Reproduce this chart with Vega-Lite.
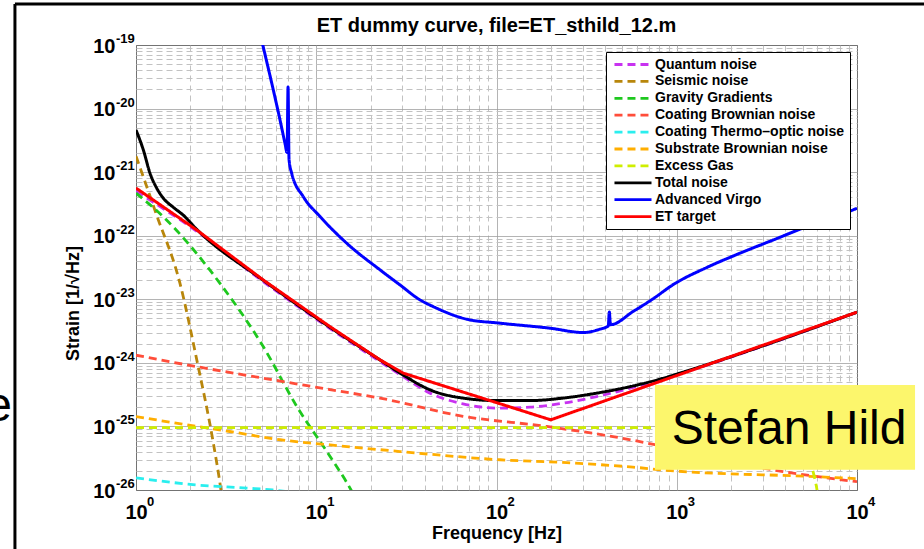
{
  "$schema": "https://vega.github.io/schema/vega-lite/v6.json",
  "width": 721,
  "height": 445,
  "autosize": {"type": "none"},
  "padding": {"left": 136, "top": 45, "right": 67, "bottom": 59},
  "background": "white",
  "config": {"view": {"stroke": "black", "strokeWidth": 1}, "font": "Liberation Sans"},
  "datasets": {
    "curves": [
      {"s": "xtick", "f": 1, "e": "0"},
      {"s": "xtick", "f": 10, "e": "1"},
      {"s": "xtick", "f": 100, "e": "2"},
      {"s": "xtick", "f": 1000, "e": "3"},
      {"s": "xtick", "f": 10000, "e": "4"},
      {"s": "ytick", "v": 1e-19, "e": "-19"},
      {"s": "ytick", "v": 1e-20, "e": "-20"},
      {"s": "ytick", "v": 1e-21, "e": "-21"},
      {"s": "ytick", "v": 1e-22, "e": "-22"},
      {"s": "ytick", "v": 1e-23, "e": "-23"},
      {"s": "ytick", "v": 1e-24, "e": "-24"},
      {"s": "ytick", "v": 1e-25, "e": "-25"},
      {"s": "ytick", "v": 1e-26, "e": "-26"},

      {"s": "Quantum noise", "f": 1, "v": 5.01e-22},
      {"s": "Quantum noise", "f": 2.173, "v": 1.175e-22},
      {"s": "Quantum noise", "f": 5.07, "v": 1.905e-23},
      {"s": "Quantum noise", "f": 11.91, "v": 3.47e-24},
      {"s": "Quantum noise", "f": 22.59, "v": 1.047e-24},
      {"s": "Quantum noise", "f": 30.27, "v": 6.1e-25},
      {"s": "Quantum noise", "f": 42.76, "v": 3.34e-25},
      {"s": "Quantum noise", "f": 65.16, "v": 2.265e-25},
      {"s": "Quantum noise", "f": 100.2, "v": 1.941e-25},
      {"s": "Quantum noise", "f": 153.5, "v": 2.01e-25},
      {"s": "Quantum noise", "f": 233.9, "v": 2.323e-25},
      {"s": "Quantum noise", "f": 359.7, "v": 2.95e-25},
      {"s": "Quantum noise", "f": 553.4, "v": 4.0e-25},
      {"s": "Quantum noise", "f": 843.3, "v": 5.62e-25},
      {"s": "Quantum noise", "f": 1042, "v": 6.76e-25},
      {"s": "Quantum noise", "f": 10000, "v": 6.24e-24},

      {"s": "Seismic noise", "f": 1, "v": 1.78e-21},
      {"s": "Seismic noise", "f": 1.122, "v": 7.08e-22},
      {"s": "Seismic noise", "f": 1.288, "v": 2.29e-22},
      {"s": "Seismic noise", "f": 1.754, "v": 1.78e-23},
      {"s": "Seismic noise", "f": 2.173, "v": 1.12e-24},
      {"s": "Seismic noise", "f": 2.685, "v": 5.5e-26},
      {"s": "Seismic noise", "f": 2.96, "v": 1.0e-26},
      {"s": "Seismic noise", "f": 3.09, "v": 4e-27},

      {"s": "Gravity Gradients", "f": 1, "v": 4.68e-22},
      {"s": "Gravity Gradients", "f": 1.413, "v": 2.0e-22},
      {"s": "Gravity Gradients", "f": 2.924, "v": 1.78e-23},
      {"s": "Gravity Gradients", "f": 5.07, "v": 1.82e-24},
      {"s": "Gravity Gradients", "f": 7.82, "v": 2.04e-25},
      {"s": "Gravity Gradients", "f": 11.91, "v": 3.39e-26},
      {"s": "Gravity Gradients", "f": 15.6, "v": 1.0e-26},
      {"s": "Gravity Gradients", "f": 17, "v": 6.3e-27},

      {"s": "Coating Brownian noise", "f": 1, "v": 1.318e-24},
      {"s": "Coating Brownian noise", "f": 2.173, "v": 8.71e-25},
      {"s": "Coating Brownian noise", "f": 5.07, "v": 5.75e-25},
      {"s": "Coating Brownian noise", "f": 11.91, "v": 3.8e-25},
      {"s": "Coating Brownian noise", "f": 22.59, "v": 2.79e-25},
      {"s": "Coating Brownian noise", "f": 65.16, "v": 1.445e-25},
      {"s": "Coating Brownian noise", "f": 189.7, "v": 1.0e-25},
      {"s": "Coating Brownian noise", "f": 442.6, "v": 6.92e-26},
      {"s": "Coating Brownian noise", "f": 3890, "v": 1.95e-26},
      {"s": "Coating Brownian noise", "f": 10000, "v": 1.35e-26},

      {"s": "Coating Thermo–optic noise", "f": 1, "v": 1.55e-26},
      {"s": "Coating Thermo–optic noise", "f": 2.173, "v": 1.2e-26},
      {"s": "Coating Thermo–optic noise", "f": 4.11, "v": 1.07e-26},
      {"s": "Coating Thermo–optic noise", "f": 5.75, "v": 1.0e-26},
      {"s": "Coating Thermo–optic noise", "f": 8, "v": 8.9e-27},

      {"s": "Substrate Brownian noise", "f": 1, "v": 1.43e-25},
      {"s": "Substrate Brownian noise", "f": 2.173, "v": 1.0e-25},
      {"s": "Substrate Brownian noise", "f": 3.31, "v": 8.32e-26},
      {"s": "Substrate Brownian noise", "f": 6.31, "v": 6.17e-26},
      {"s": "Substrate Brownian noise", "f": 11.91, "v": 5.13e-26},
      {"s": "Substrate Brownian noise", "f": 29.2, "v": 4.03e-26},
      {"s": "Substrate Brownian noise", "f": 104.5, "v": 2.99e-26},
      {"s": "Substrate Brownian noise", "f": 245.5, "v": 2.69e-26},
      {"s": "Substrate Brownian noise", "f": 571, "v": 2.29e-26},
      {"s": "Substrate Brownian noise", "f": 879, "v": 2.04e-26},
      {"s": "Substrate Brownian noise", "f": 5970, "v": 1.62e-26},
      {"s": "Substrate Brownian noise", "f": 10000, "v": 1.51e-26},

      {"s": "Excess Gas", "f": 1, "v": 9.55e-26},
      {"s": "Excess Gas", "f": 3000, "v": 9.55e-26},
      {"s": "Excess Gas", "f": 4500, "v": 7.6e-26},
      {"s": "Excess Gas", "f": 5300, "v": 4.0e-26},
      {"s": "Excess Gas", "f": 5750, "v": 1.78e-26},
      {"s": "Excess Gas", "f": 6000, "v": 1.0e-26},
      {"s": "Excess Gas", "f": 6200, "v": 5e-27},

      {"s": "Total noise", "f": 1, "v": 4.61e-21},
      {"s": "Total noise", "f": 1.098, "v": 2.24e-21},
      {"s": "Total noise", "f": 1.196, "v": 9.6e-22},
      {"s": "Total noise", "f": 1.303, "v": 5.6e-22},
      {"s": "Total noise", "f": 1.417, "v": 3.9e-22},
      {"s": "Total noise", "f": 1.611, "v": 2.8e-22},
      {"s": "Total noise", "f": 1.83, "v": 2.1e-22},
      {"s": "Total noise", "f": 2.173, "v": 1.26e-22},
      {"s": "Total noise", "f": 5.07, "v": 2.0e-23},
      {"s": "Total noise", "f": 11.91, "v": 3.63e-24},
      {"s": "Total noise", "f": 22.59, "v": 1.11e-24},
      {"s": "Total noise", "f": 30.27, "v": 6.47e-25},
      {"s": "Total noise", "f": 42.76, "v": 3.76e-25},
      {"s": "Total noise", "f": 65.16, "v": 2.79e-25},
      {"s": "Total noise", "f": 100.2, "v": 2.55e-25},
      {"s": "Total noise", "f": 153.5, "v": 2.55e-25},
      {"s": "Total noise", "f": 233.9, "v": 2.79e-25},
      {"s": "Total noise", "f": 359.7, "v": 3.34e-25},
      {"s": "Total noise", "f": 553.4, "v": 4.24e-25},
      {"s": "Total noise", "f": 843.3, "v": 5.74e-25},
      {"s": "Total noise", "f": 1042, "v": 6.89e-25},
      {"s": "Total noise", "f": 10000, "v": 6.27e-24},

      {"s": "Advanced Virgo", "f": 4.898, "v": 1.45e-19},
      {"s": "Advanced Virgo", "f": 5.08, "v": 9.33e-20},
      {"s": "Advanced Virgo", "f": 5.781, "v": 1.95e-20},
      {"s": "Advanced Virgo", "f": 6.295, "v": 6.61e-21},
      {"s": "Advanced Virgo", "f": 6.708, "v": 2.84e-21},
      {"s": "Advanced Virgo", "f": 6.887, "v": 2.04e-21},
      {"s": "Advanced Virgo", "f": 6.975, "v": 2.19e-20},
      {"s": "Advanced Virgo", "f": 7.063, "v": 1.585e-21},
      {"s": "Advanced Virgo", "f": 7.311, "v": 9.55e-22},
      {"s": "Advanced Virgo", "f": 8.472, "v": 4.12e-22},
      {"s": "Advanced Virgo", "f": 10.5, "v": 2.0e-22},
      {"s": "Advanced Virgo", "f": 14.76, "v": 7.62e-23},
      {"s": "Advanced Virgo", "f": 22.59, "v": 2.9e-23},
      {"s": "Advanced Virgo", "f": 29.17, "v": 1.68e-23},
      {"s": "Advanced Virgo", "f": 37.67, "v": 9.77e-24},
      {"s": "Advanced Virgo", "f": 44.57, "v": 7.67e-24},
      {"s": "Advanced Virgo", "f": 68.39, "v": 4.86e-24},
      {"s": "Advanced Virgo", "f": 104.5, "v": 4.21e-24},
      {"s": "Advanced Virgo", "f": 198.2, "v": 3.51e-24},
      {"s": "Advanced Virgo", "f": 303.4, "v": 3.0e-24},
      {"s": "Advanced Virgo", "f": 375, "v": 3.39e-24},
      {"s": "Advanced Virgo", "f": 416.9, "v": 3.8e-24},
      {"s": "Advanced Virgo", "f": 422.7, "v": 6.31e-24},
      {"s": "Advanced Virgo", "f": 428.5, "v": 3.98e-24},
      {"s": "Advanced Virgo", "f": 574.1, "v": 6.46e-24},
      {"s": "Advanced Virgo", "f": 741, "v": 1.023e-23},
      {"s": "Advanced Virgo", "f": 955, "v": 1.7e-23},
      {"s": "Advanced Virgo", "f": 1466, "v": 3.16e-23},
      {"s": "Advanced Virgo", "f": 2244, "v": 5.31e-23},
      {"s": "Advanced Virgo", "f": 3436, "v": 8.59e-23},
      {"s": "Advanced Virgo", "f": 5260, "v": 1.39e-22},
      {"s": "Advanced Virgo", "f": 8054, "v": 2.12e-22},
      {"s": "Advanced Virgo", "f": 10000, "v": 2.7e-22},

      {"s": "ET target", "f": 1, "v": 5.62e-22},
      {"s": "ET target", "f": 2.173, "v": 1.23e-22},
      {"s": "ET target", "f": 5.07, "v": 2.02e-23},
      {"s": "ET target", "f": 11.91, "v": 3.72e-24},
      {"s": "ET target", "f": 22.59, "v": 1.114e-24},
      {"s": "ET target", "f": 30.41, "v": 6.89e-25},
      {"s": "ET target", "f": 200, "v": 1.27e-25},
      {"s": "ET target", "f": 10000, "v": 6.27e-24}
    ]
  },
  "data": {"name": "curves"},
  "layer": [
    {
      "transform": [{"filter": "datum.s == 'Quantum noise' || datum.s == 'Seismic noise' || datum.s == 'Gravity Gradients' || datum.s == 'Coating Brownian noise' || datum.s == 'Coating Thermo–optic noise' || datum.s == 'Substrate Brownian noise' || datum.s == 'Excess Gas'"}],
      "mark": {"type": "line", "clip": true, "strokeWidth": 2.8, "interpolate": "monotone"},
      "encoding": {
        "x": {
          "field": "f", "type": "quantitative",
          "scale": {"type": "log", "domain": [1, 10000], "nice": false},
          "axis": {
            "title": "Frequency [Hz]",
            "values": [1,2,3,4,5,6,7,8,9,10,20,30,40,50,60,70,80,90,100,200,300,400,500,600,700,800,900,1000,2000,3000,4000,5000,6000,7000,8000,9000,10000],
            "labelExpr": "abs(log(datum.value)/LN10 - round(log(datum.value)/LN10)) < 0.000001 ? '10' : ''",
            "labelFont": "Liberation Sans", "labelFontSize": 20, "labelFontWeight": "bold", "labelColor": "black",
            "labelPadding": 12, "labelOverlap": false, "labelFlush": false,
            "ticks": false, "domain": false, "grid": true, "gridWidth": 1,
            "gridColor": {"condition": {"test": "abs(log(datum.value)/LN10 - round(log(datum.value)/LN10)) < 0.000001", "value": "#9a9a9a"}, "value": "#c2c2c2"},
            "gridDash": {"condition": {"test": "abs(log(datum.value)/LN10 - round(log(datum.value)/LN10)) < 0.000001", "value": [1, 0]}, "value": [6, 4]},
            "titleFont": "Liberation Sans", "titleFontSize": 18, "titleFontWeight": "bold", "titleColor": "black",
            "titleY": 43, "titleBaseline": "middle"
          }
        },
        "y": {
          "field": "v", "type": "quantitative",
          "scale": {"type": "log", "domain": [1e-26, 1e-19], "nice": false},
          "axis": {
            "title": "Strain [1/√Hz]",
            "values": [1e-26,2e-26,3e-26,4e-26,5e-26,6e-26,7e-26,8e-26,9e-26,1e-25,2e-25,3e-25,4e-25,5e-25,6e-25,7e-25,8e-25,9e-25,1e-24,2e-24,3e-24,4e-24,5e-24,6e-24,7e-24,8e-24,9e-24,1e-23,2e-23,3e-23,4e-23,5e-23,6e-23,7e-23,8e-23,9e-23,1e-22,2e-22,3e-22,4e-22,5e-22,6e-22,7e-22,8e-22,9e-22,1e-21,2e-21,3e-21,4e-21,5e-21,6e-21,7e-21,8e-21,9e-21,1e-20,2e-20,3e-20,4e-20,5e-20,6e-20,7e-20,8e-20,9e-20,1e-19],
            "labelExpr": "abs(log(datum.value)/LN10 - round(log(datum.value)/LN10)) < 0.000001 ? '10' : ''",
            "labelFont": "Liberation Sans", "labelFontSize": 20, "labelFontWeight": "bold", "labelColor": "black",
            "labelPadding": 21, "labelOffset": 1, "labelOverlap": false, "labelFlush": false,
            "ticks": false, "domain": false, "grid": true, "gridWidth": 1,
            "gridColor": {"condition": {"test": "abs(log(datum.value)/LN10 - round(log(datum.value)/LN10)) < 0.000001", "value": "#9a9a9a"}, "value": "#c2c2c2"},
            "gridDash": {"condition": {"test": "abs(log(datum.value)/LN10 - round(log(datum.value)/LN10)) < 0.000001", "value": [1, 0]}, "value": [6, 4]},
            "titleFont": "Liberation Sans", "titleFontSize": 18, "titleFontWeight": "bold", "titleColor": "black",
            "titleX": -63, "titleY": 258, "titleBaseline": "middle", "titleAlign": "center"
          }
        },
        "color": {
          "field": "s", "type": "nominal",
          "scale": {
            "domain": ["Quantum noise", "Seismic noise", "Gravity Gradients", "Coating Brownian noise", "Coating Thermo–optic noise", "Substrate Brownian noise", "Excess Gas", "Total noise", "Advanced Virgo", "ET target"],
            "range": ["#c832f0", "#b8860b", "#1ec81e", "#ff4d3a", "#2aeeee", "#ffae00", "#cfee00", "#000000", "#0000ff", "#ff0000"]
          },
          "legend": {"orient": "none", "legendX": 470, "legendY": 7, "title": null, "labelFont": "Liberation Sans", "labelFontSize": 14, "labelFontWeight": "bold", "labelColor": "black", "labelLimit": 400, "symbolType": "M-0.67,0H5.5", "symbolSize": 144, "symbolStrokeWidth": 2.8, "labelOffset": 29, "rowPadding": 1.9, "padding": 5, "strokeColor": "black", "fillColor": "white"}
        },
        "strokeDash": {
          "field": "s", "type": "nominal",
          "scale": {
            "domain": ["Quantum noise", "Seismic noise", "Gravity Gradients", "Coating Brownian noise", "Coating Thermo–optic noise", "Substrate Brownian noise", "Excess Gas", "Total noise", "Advanced Virgo", "ET target"],
            "range": [[8, 5], [8, 5], [8, 5], [8, 5], [8, 5], [8, 5], [8, 5], [1, 0], [1, 0], [1, 0]]
          },
          "legend": {"orient": "none", "legendX": 470, "legendY": 7, "title": null, "labelFont": "Liberation Sans", "labelFontSize": 14, "labelFontWeight": "bold", "labelColor": "black", "labelLimit": 400, "symbolType": "M-0.67,0H5.5", "symbolSize": 144, "symbolStrokeWidth": 2.8, "labelOffset": 29, "rowPadding": 1.9, "padding": 5, "strokeColor": "black", "fillColor": "white"}
        }
      }
    },
    {
      "transform": [{"filter": "datum.s == 'Total noise'"}],
      "mark": {"type": "line", "clip": true, "strokeWidth": 3, "interpolate": "monotone"},
      "encoding": {"x": {"field": "f", "type": "quantitative"}, "y": {"field": "v", "type": "quantitative"}, "color": {"field": "s", "type": "nominal"}, "strokeDash": {"field": "s", "type": "nominal"}}
    },
    {
      "transform": [{"filter": "datum.s == 'Advanced Virgo'"}],
      "mark": {"type": "line", "clip": true, "strokeWidth": 3, "interpolate": "monotone"},
      "encoding": {"x": {"field": "f", "type": "quantitative"}, "y": {"field": "v", "type": "quantitative"}, "color": {"field": "s", "type": "nominal"}, "strokeDash": {"field": "s", "type": "nominal"}}
    },
    {
      "transform": [{"filter": "datum.s == 'ET target'"}],
      "mark": {"type": "line", "clip": true, "strokeWidth": 3},
      "encoding": {"x": {"field": "f", "type": "quantitative"}, "y": {"field": "v", "type": "quantitative"}, "color": {"field": "s", "type": "nominal"}, "strokeDash": {"field": "s", "type": "nominal"}}
    },
    {
      "transform": [{"filter": "datum.s == 'xtick'"}],
      "mark": {"type": "text", "clip": false, "font": "Liberation Sans", "fontSize": 13, "fontWeight": "bold", "color": "black", "align": "left", "baseline": "middle", "dx": 11, "dy": 12},
      "encoding": {"x": {"field": "f", "type": "quantitative"}, "y": {"datum": 1e-26, "type": "quantitative"}, "text": {"field": "e"}}
    },
    {
      "transform": [{"filter": "datum.s == 'ytick'"}],
      "mark": {"type": "text", "clip": false, "font": "Liberation Sans", "fontSize": 13, "fontWeight": "bold", "color": "black", "align": "left", "baseline": "middle", "dx": -20, "dy": -6},
      "encoding": {"x": {"datum": 1, "type": "quantitative"}, "y": {"field": "v", "type": "quantitative"}, "text": {"field": "e"}}
    },
    {
      "transform": [{"filter": "datum.s == 'ET target' && datum.f == 10000"}],
      "mark": {"type": "rect", "clip": false, "fill": "#fcf66c"},
      "encoding": {"x": {"datum": 757, "type": "quantitative"}, "x2": {"datum": 20990}, "y": {"datum": 4.5e-25, "type": "quantitative"}, "y2": {"datum": 2.08e-26}}
    },
    {
      "transform": [{"filter": "datum.s == 'ET target' && datum.f == 10000"}],
      "mark": {"type": "text", "clip": false, "text": "Stefan Hild", "font": "Liberation Sans", "fontSize": 48, "color": "black", "align": "center", "baseline": "middle"},
      "encoding": {"x": {"datum": 4198, "type": "quantitative"}, "y": {"datum": 8.85e-26, "type": "quantitative"}}
    },
    {
      "transform": [{"filter": "datum.s == 'ET target' && datum.f == 10000"}],
      "mark": {"type": "text", "clip": false, "text": "ET dummy curve, file=ET_sthild_12.m", "font": "Liberation Sans", "fontSize": 20, "fontWeight": "bold", "color": "black", "align": "center", "baseline": "middle"},
      "encoding": {"x": {"datum": 100, "type": "quantitative"}, "y": {"datum": 2.0e-19, "type": "quantitative"}}
    },
    {
      "transform": [{"filter": "datum.s == 'ET target' && datum.f == 10000"}],
      "mark": {"type": "rule", "clip": false, "color": "black", "strokeWidth": 3},
      "encoding": {"x": {"datum": 0.213, "type": "quantitative"}, "y": {"datum": 4.4e-19, "type": "quantitative"}, "y2": {"datum": 1e-28}}
    },
    {
      "transform": [{"filter": "datum.s == 'ET target' && datum.f == 10000"}],
      "mark": {"type": "rule", "clip": false, "color": "black", "strokeWidth": 3},
      "encoding": {"x": {"datum": 0.213, "type": "quantitative"}, "x2": {"datum": 1000000}, "y": {"datum": 4.4e-19, "type": "quantitative"}}
    },
    {
      "transform": [{"filter": "datum.s == 'ET target' && datum.f == 10000"}],
      "mark": {"type": "text", "clip": false, "text": "e", "font": "Liberation Sans", "fontSize": 48, "color": "black", "align": "right", "baseline": "middle"},
      "encoding": {"x": {"datum": 0.205, "type": "quantitative"}, "y": {"datum": 2.04e-25, "type": "quantitative"}}
    }
  ]
}
